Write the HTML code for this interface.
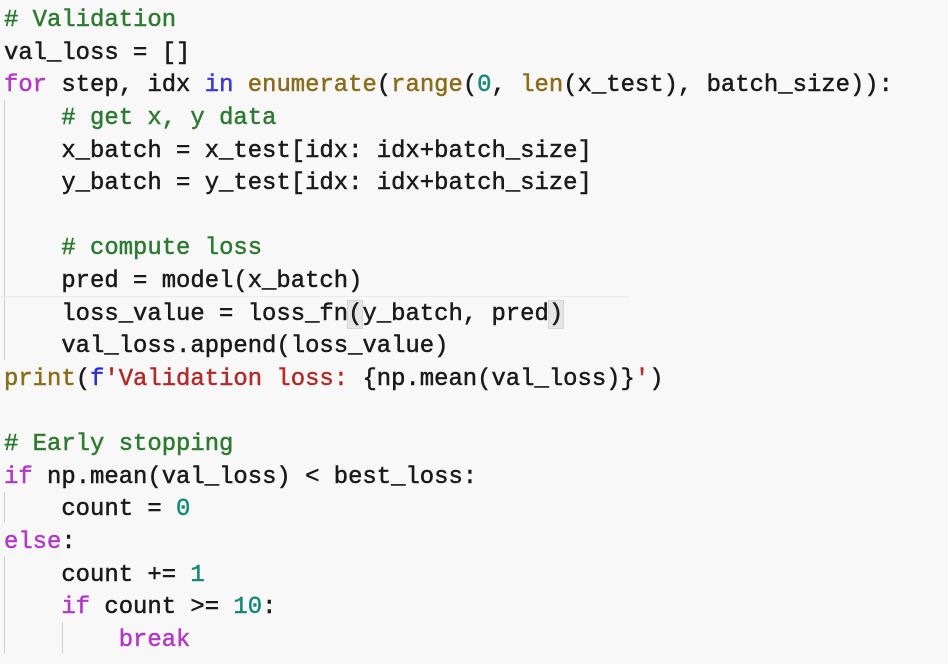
<!DOCTYPE html>
<html><head><meta charset="utf-8"><style>
html,body{margin:0;padding:0;background:#f8f8f8;width:948px;height:664px;overflow:hidden}
.c{position:absolute;left:4px;top:5px;font-family:"Liberation Mono",monospace;font-size:23.9px;line-height:32.62px;color:#1a1a1a;white-space:pre;-webkit-text-stroke:0.5px currentColor}
.cm{color:#2f7a32}.kw{color:#b13bc4}.in{color:#3b3bd6}.fn{color:#8a6d1c}.nu{color:#1a8a78}.st{color:#b22b2b}.fb{color:#2f2fd0}
.g{position:absolute;width:1px;background:#cfcfcf}
.br{background:#e6e6e6;outline:1px solid #d4d4d4}
</style></head><body>
<div class="g" style="left:4px;top:100px;height:260px"></div>
<div class="g" style="left:4px;top:492px;height:30px"></div>
<div class="g" style="left:4px;top:556px;height:98px"></div>
<div class="g" style="left:62px;top:622px;height:32px"></div>
<div style="position:absolute;left:0;top:296px;width:630px;height:1px;background:#ececec"></div>
<div class="c"><span class="cm"># Validation</span>
val_loss = []
<span class="kw">for</span> step, idx <span class="in">in</span> <span class="fn">enumerate</span>(<span class="fn">range</span>(<span class="nu">0</span>, <span class="fn">len</span>(x_test), batch_size)):
    <span class="cm"># get x, y data</span>
    x_batch = x_test[idx: idx+batch_size]
    y_batch = y_test[idx: idx+batch_size]

    <span class="cm"># compute loss</span>
    pred = model(x_batch)
    loss_value = loss_fn<span class="br">(</span>y_batch, pred<span class="br">)</span>
    val_loss.append(loss_value)
<span class="fn">print</span>(<span class="fb">f</span><span class="st">'Validation loss: </span>{np.mean(val_loss)}<span class="st">'</span>)

<span class="cm"># Early stopping</span>
<span class="kw">if</span> np.mean(val_loss) &lt; best_loss:
    count = <span class="nu">0</span>
<span class="kw">else</span>:
    count += <span class="nu">1</span>
    <span class="kw">if</span> count &gt;= <span class="nu">10</span>:
        <span class="kw">break</span></div>
</body></html>
